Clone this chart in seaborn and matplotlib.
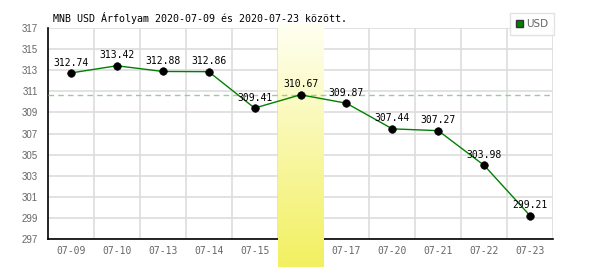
import numpy as np
import pandas as pd
import matplotlib
matplotlib.use("Agg")
import matplotlib.pyplot as plt
from matplotlib.patches import Patch
from matplotlib.colors import LinearSegmentedColormap
import seaborn as sns

dates = ["07-09", "07-10", "07-13", "07-14", "07-15", "07-16",
         "07-17", "07-20", "07-21", "07-22", "07-23"]
usd = [312.74, 313.42, 312.88, 312.86, 309.41, 310.67,
       309.87, 307.44, 307.27, 303.98, 299.21]
highlight = "07-16"
y_ticks = [297, 299, 301, 303, 305, 307, 309, 311, 313, 315, 317]
title = "MNB USD Árfolyam 2020-07-09 és 2020-07-23 között."

df = pd.DataFrame({"date": dates, "value": usd})
df["pos"] = range(len(dates))

sns.set_style("white")
plt.rcParams["font.family"] = ["DejaVu Sans"]

fig = plt.figure(figsize=(6, 2.7), dpi=100)
ax = fig.add_axes([48 / 600, 1 - 239 / 270, 505 / 600, 211 / 270])

ymin, ymax = y_ticks[0], y_ticks[-1]
ax.set_xlim(-0.5, len(dates) - 0.5)
ax.set_ylim(ymin, ymax)

# grid
ax.set_yticks(y_ticks)
ax.set_xticks(df["pos"])
ax.grid(False)
for yv in y_ticks:
    ax.axhline(yv, color="#dddddd", lw=1.2, zorder=0)
for xv in np.arange(0.5, len(dates), 1.0):
    ax.axvline(xv, color="#dddddd", lw=1.2, zorder=0)

# highlight band with gradient
hi = dates.index(highlight)
cmap = LinearSegmentedColormap.from_list("hl", ["#f2f060", "#fffff2"])
grad = np.linspace(0, 1, 256).reshape(-1, 1)
ppu = 211 / (ymax - ymin)
band_bottom = ymin - (267 - 239) / ppu
band_top = ymax + (28 - 24) / ppu
ax.imshow(grad, cmap=cmap, origin="lower", aspect="auto",
          extent=(hi - 0.5, hi + 0.5, band_bottom, band_top),
          zorder=3, clip_on=False)
ax.set_xlim(-0.5, len(dates) - 0.5)
ax.set_ylim(ymin, ymax)

# reference dashed line at highlighted value
ax.axhline(usd[hi], color="#99cc99", lw=1, ls=(0, (4, 3)), zorder=4)

sns.lineplot(data=df, x="pos", y="value", color="#008000", lw=1,
             ax=ax, zorder=5, legend=False)
sns.scatterplot(data=df, x="pos", y="value", color="black", s=30,
                edgecolor="black", ax=ax, zorder=6, legend=False)

for p, v in zip(df["pos"], df["value"]):
    ax.annotate(f"{v:.2f}", (p, v), xytext=(0, 7.5), textcoords="offset points",
                ha="center", va="center", fontsize=7,
                family="DejaVu Sans Mono", color="black", zorder=7)

ax.set_xticklabels(dates, fontsize=7, family="DejaVu Sans Mono", color="#666666")
ax.set_yticklabels([str(t) for t in y_ticks], fontsize=7,
                   family="Liberation Sans", color="#666666")
ax.tick_params(axis="both", which="both", length=0)
ax.tick_params(axis="x", pad=5)
ax.tick_params(axis="y", pad=7)
ax.set_xlabel("")
ax.set_ylabel("")

for s in ["top", "right"]:
    ax.spines[s].set_visible(False)
for s in ["left", "bottom"]:
    ax.spines[s].set_color("black")
    ax.spines[s].set_linewidth(1.2)
    ax.spines[s].set_zorder(2)

fig.text(53 / 600, 1 - 18 / 270, title, fontsize=7.2, family="DejaVu Sans Mono",
         color="black", ha="left", va="center")

leg = fig.legend(handles=[Patch(facecolor="#008000", edgecolor="#333333", label="USD")],
                 loc="center", bbox_to_anchor=(532 / 600, 1 - 24 / 270),
                 frameon=True, fancybox=False, fontsize=7.5, handlelength=0.7,
                 handleheight=0.7, handletextpad=0.3, borderpad=0.55,
                 borderaxespad=0)
leg.get_frame().set_edgecolor("#dddddd")
leg.get_frame().set_linewidth(1)
for t in leg.get_texts():
    t.set_color("#666666")

fig.savefig("out.png", dpi=100)
